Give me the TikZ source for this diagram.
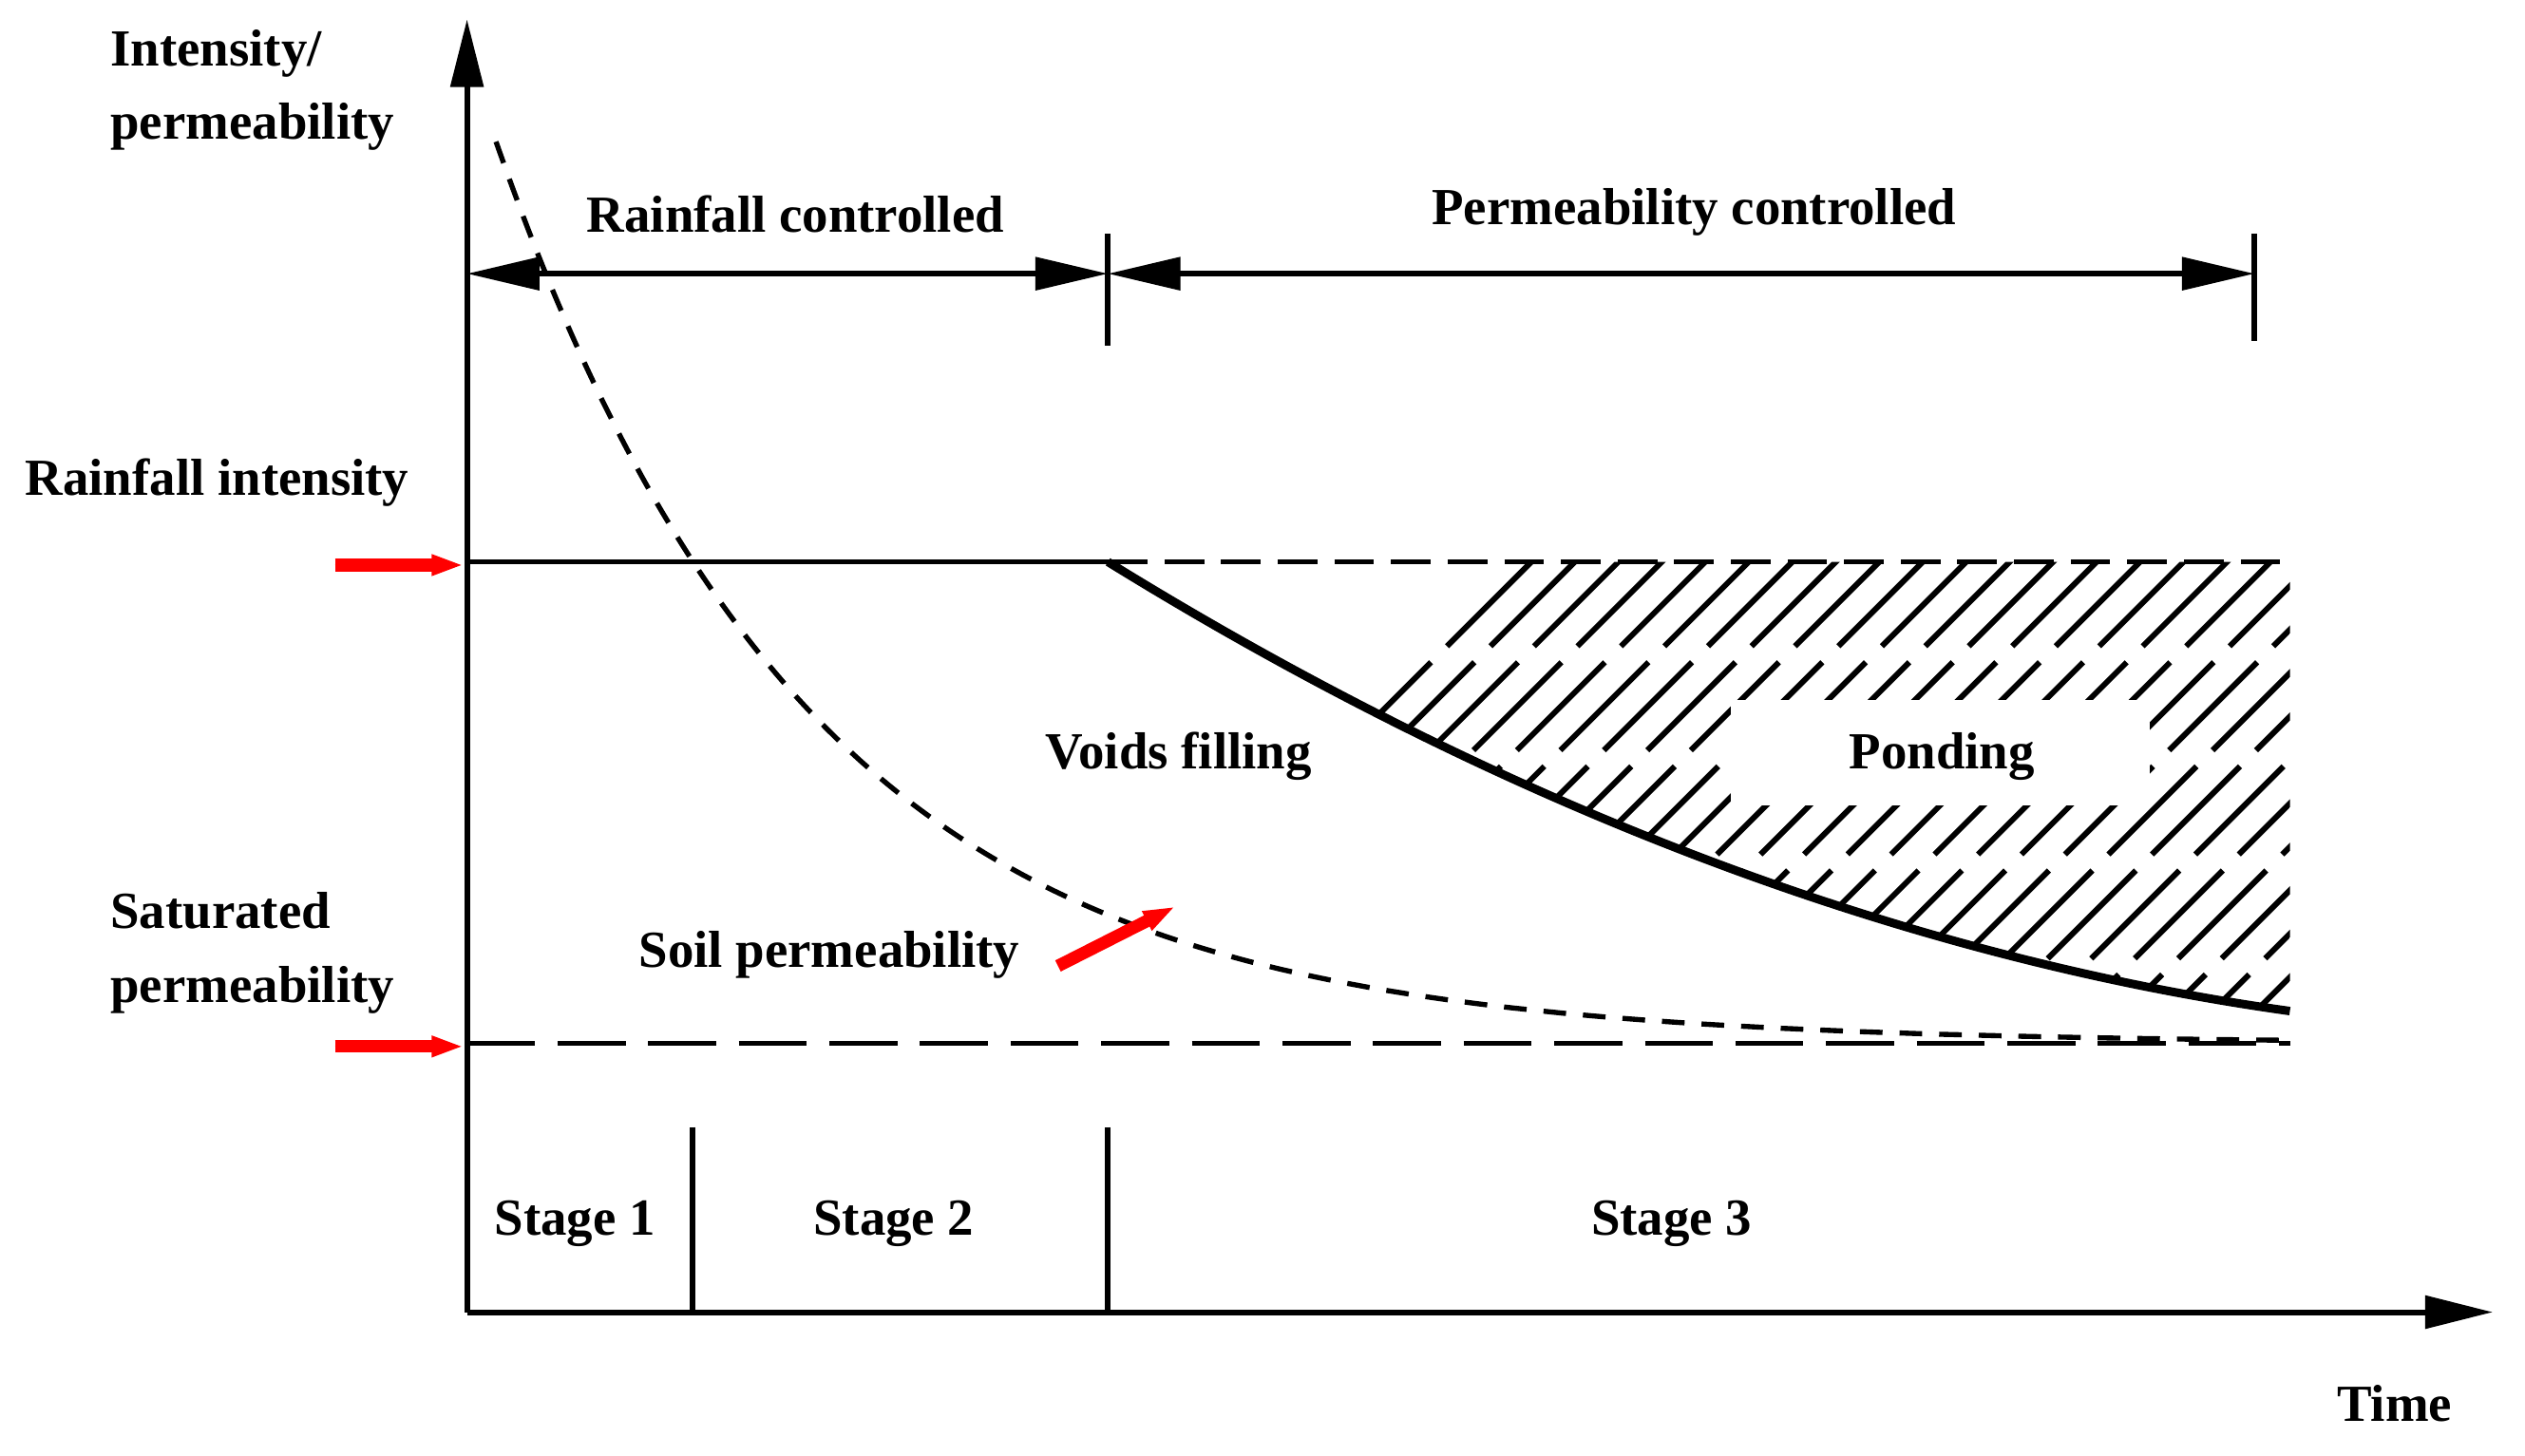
\documentclass[tikz,border=0pt]{standalone}
\usepackage{fontspec}
\setmainfont{Liberation Serif}
\usetikzlibrary{arrows.meta}
\begin{document}
\begin{tikzpicture}[x=0.01cm,y=-0.01cm,
  lbl/.style={font=\bfseries\fontsize{9.2}{11}\selectfont,inner sep=0pt},
  big/.style={-{Triangle[length=0.42cm,width=0.2cm]}},
  dbl/.style={{Triangle[length=0.45cm,width=0.2cm]}-{Triangle[length=0.45cm,width=0.2cm]}},
  redarr/.style={-{Triangle[length=0.2cm,width=0.12cm]},draw=red,fill=red,line width=2.2pt}]
\useasboundingbox (0,0) rectangle (1568,904);
% hatch
\begin{scope}
\clip (688,349) .. controls (900,480) and (1150,590) .. (1422,628) -- (1422,349) -- cycle;
\foreach \i in {0,...,40} {
  \draw[dash pattern=on 22pt off 4pt,line width=1pt] (640+\i*27,660) -- ++(330,-330);
}
\end{scope}
\fill[white] (1075,435) rectangle (1335,500);
\draw[dash pattern=on 7pt off 3pt,line width=0.8pt] (688,349) -- (1422,349);
% axes
\coordinate (o) at (290,815);
\coordinate (yt) at (290,12);
\coordinate (xt) at (1548,815);
\draw[big,line width=1pt] (o) -- (yt);
\draw[big,line width=1pt] (o) -- (xt);
% rainfall line
\coordinate (r0) at (290,349); \coordinate (r1) at (688,349);
\draw[line width=0.8pt] (r0) -- (r1);
\draw[line width=1.5pt] (r1) .. controls (900,480) and (1150,590) .. (1422,628);
% saturated
\coordinate (s0) at (290,648); \coordinate (s1) at (1422,648);
\draw[dash pattern=on 12pt off 4pt,line width=0.8pt] (s0) -- (s1);
% soil permeability
\draw[dash pattern=on 4pt off 3pt,line width=0.9pt] plot[domain=308:1422,samples=120,smooth] (\x,{648-560*exp(-(\x-308)/195)});
% stage dividers
\draw[line width=1pt] (430,700) -- (430,815);
\draw[line width=1pt] (688,700) -- (688,815);
% top arrows
\coordinate (a0) at (290,170); \coordinate (a1) at (688,170); \coordinate (a2) at (1400,170);
\draw[dbl,line width=1pt] (a0) -- (a1);
\draw[dbl,line width=1pt] (a1) -- (a2);
\draw[line width=1pt] (688,145) -- (688,215);
\draw[line width=1pt] (1400,145) -- (1400,212);
% red arrows
\draw[redarr] (208,351) -- (288,351);
\draw[redarr] (208,650) -- (288,650);
\draw[redarr] (657,600) -- (730,563);
% labels
\node[lbl,anchor=west,align=left] (iy) at (68,56) {Intensity/\\[2pt]permeability};
\node[lbl,anchor=west] (ri) at (15,300) {Rainfall intensity};
\node[lbl,anchor=west,align=left] (sp) at (68,592) {Saturated\\[2pt]permeability};
\node[lbl] (rc) at (494,133) {Rainfall controlled};
\node[lbl] (pc) at (1052,132) {Permeability controlled};
\node[lbl] (vf) at (732,470) {Voids filling};
\node[lbl] (pd) at (1206,470) {Ponding};
\node[lbl] (so) at (515,593) {Soil permeability};
\node[lbl] (s1l) at (357,760) {Stage 1};
\node[lbl] (s2l) at (555,760) {Stage 2};
\node[lbl] (s3l) at (1038,760) {Stage 3};
\node[lbl] (tm) at (1487,872) {Time};
\end{tikzpicture}
\end{document}
